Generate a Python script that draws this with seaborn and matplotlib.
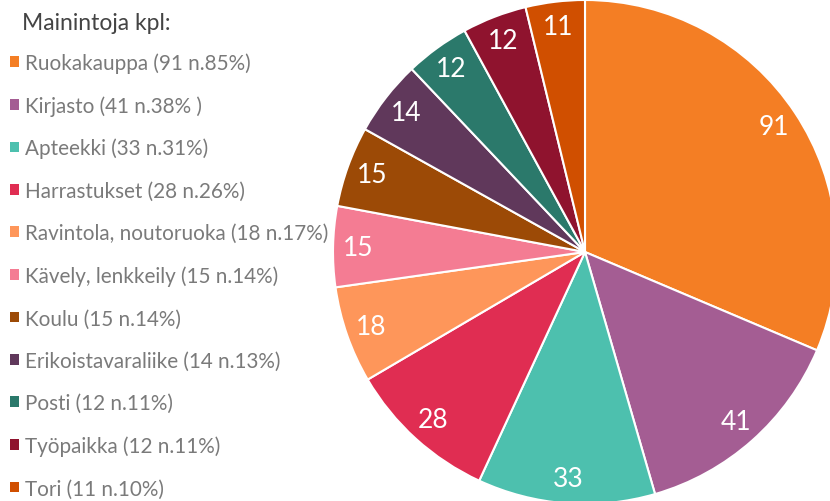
import matplotlib.pyplot as plt
import seaborn as sns
from matplotlib.patches import Patch

categories = ["Ruokakauppa", "Kirjasto", "Apteekki", "Harrastukset",
              "Ravintola, noutoruoka", "Kävely, lenkkeily", "Koulu",
              "Erikoistavaraliike", "Posti", "Työpaikka", "Tori"]
counts = [91, 41, 33, 28, 18, 15, 15, 14, 12, 12, 11]
legend_labels = ["Ruokakauppa (91 n.85%)", "Kirjasto (41 n.38% )",
                 "Apteekki (33 n.31%)", "Harrastukset (28 n.26%)",
                 "Ravintola, noutoruoka (18 n.17%)", "Kävely, lenkkeily (15 n.14%)",
                 "Koulu (15 n.14%)", "Erikoistavaraliike (14 n.13%)",
                 "Posti (12 n.11%)", "Työpaikka (12 n.11%)", "Tori (11 n.10%)"]
colors = ["#F47E24", "#A45D93", "#4DC0AE", "#E02D52", "#FE965A", "#F47C93",
          "#9C4A06", "#60385B", "#2B796B", "#8F132E", "#D04F00"]

sns.set_theme(style="white")
plt.rcParams["font.family"] = ["Lato", "DejaVu Sans"]
palette = sns.color_palette(colors)

W, H = 830, 502
fig = plt.figure(figsize=(W / 100, H / 100), dpi=100)

# pie centred at (585, 253) px, radius 252 px
cx, cy, r = 585, 253, 252
ax = fig.add_axes([(cx - r) / W, (H - cy - r) / H, 2 * r / W, 2 * r / H])
wedges, texts = ax.pie(counts, colors=palette, startangle=90, counterclock=False,
                       labels=[str(c) for c in counts], labeldistance=0.9,
                       wedgeprops=dict(edgecolor="white", linewidth=1.5),
                       textprops=dict(color="white", fontsize=19, ha="center", va="center"))
for t in texts:
    t.set_horizontalalignment("center")
ax.set_xlim(-1, 1)
ax.set_ylim(-1, 1)
ax.set_aspect("equal")
ax.axis("off")

fig.text(22 / W, 1 - 23 / H, "Mainintoja kpl:", fontsize=16.5, color="#444444",
         ha="left", va="center")

handles = [Patch(facecolor=c, edgecolor="none") for c in palette]
leg = fig.legend(handles, legend_labels, loc="upper left",
                 bbox_to_anchor=(10 / W, 1 - 53 / H), frameon=False,
                 fontsize=14.9, handlelength=0.42, handleheight=0.42,
                 handletextpad=0.3, labelspacing=1.08, borderpad=0,
                 borderaxespad=0)
for t in leg.get_texts():
    t.set_color("#7a7a7a")

fig.savefig("out.png", dpi=100)
